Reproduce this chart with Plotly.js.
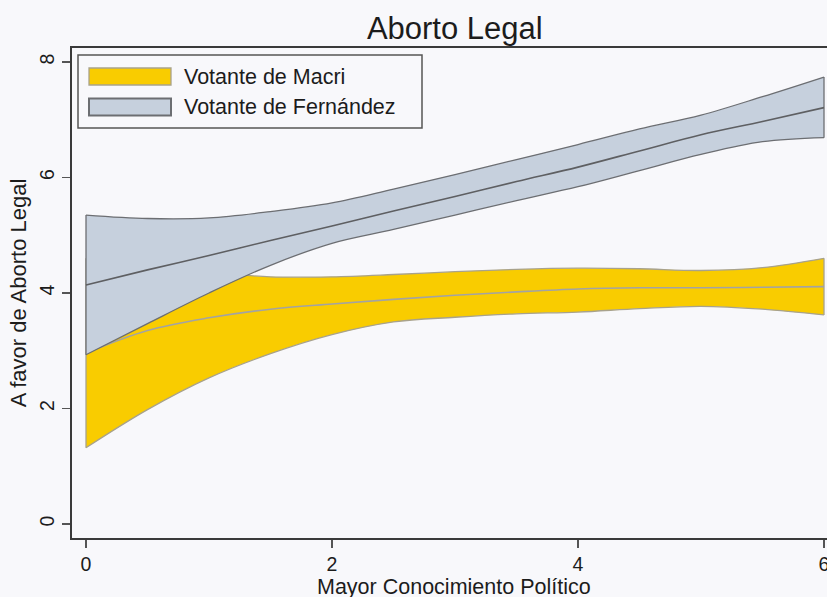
<!DOCTYPE html>
<html>
<head>
<meta charset="utf-8">
<script src="https://cdn.plot.ly/plotly-3.0.1.min.js"></script>
<style>
  html, body { margin: 0; padding: 0; background: #f8f8fb; }
  #chart { width: 827px; height: 597px; }
</style>
</head>
<body>
<div id="chart"></div>
<script>
// ── Data ──────────────────────────────────────────────────────
const KNOWLEDGE = [0, 0.5, 1, 1.5, 2, 2.5, 3, 3.5, 4, 4.5, 5, 5.5, 6];

const MACRI_MEAN = [2.96, 3.35, 3.57, 3.72, 3.81, 3.89, 3.96, 4.02, 4.07, 4.09, 4.09, 4.10, 4.11];
const MACRI_LO   = [1.32, 1.98, 2.53, 2.95, 3.28, 3.50, 3.58, 3.64, 3.67, 3.73, 3.77, 3.72, 3.62];
const MACRI_HI   = [4.60, 4.47, 4.36, 4.28, 4.28, 4.32, 4.37, 4.41, 4.43, 4.42, 4.39, 4.44, 4.60];

const FERN_MEAN = [4.14, 4.40, 4.65, 4.91, 5.16, 5.42, 5.67, 5.93, 6.18, 6.46, 6.74, 6.97, 7.21];
const FERN_LO   = [2.93, 3.47, 4.00, 4.48, 4.86, 5.10, 5.35, 5.60, 5.84, 6.12, 6.40, 6.62, 6.69];
const FERN_HI   = [5.35, 5.29, 5.30, 5.41, 5.56, 5.80, 6.05, 6.31, 6.57, 6.84, 7.08, 7.40, 7.74];

const LEGEND_LABELS = ["Votante de Macri", "Votante de Fernández"];
const X_TITLE = "Mayor Conocimiento Político";
const X_TICKS = [0, 2, 4, 6];
const Y_TICKS = [0, 2, 4, 6, 8];

// ── Styling ───────────────────────────────────────────────────
const BG = "#f8f8fb";
const FONT = "Liberation Sans, Arial, sans-serif";
const INK = "#1c1c1c";
const MACRI = { fill: "#f9cc00", edge: "#a8a28c", mean: "#a3a3a3" };
const FERN  = { fill: "#c6d0dd", edge: "#6c6e72", mean: "#5e5f62" };

// plot area in pixels, used to place the hand-drawn legend
const PLOT = { l: 72, t: 48, w: 755, h: 490 };
const px = v => (v - PLOT.l) / PLOT.w;
const py = v => (PLOT.t + PLOT.h - v) / PLOT.h;

function bandTraces(lo, mean, hi, c) {
  const n = KNOWLEDGE.length - 1;
  const line = (color, width) => ({ color, width, shape: "spline", smoothing: 1 });
  return [
    { x: KNOWLEDGE, y: lo, type: "scatter", mode: "lines", line: line(c.edge, 1.3), hoverinfo: "skip" },
    { x: KNOWLEDGE, y: hi, type: "scatter", mode: "lines", line: line(c.edge, 1.3),
      fill: "tonexty", fillcolor: c.fill, hoverinfo: "skip" },
    // closing edges of the band at both ends
    { x: [KNOWLEDGE[0], KNOWLEDGE[0], null, KNOWLEDGE[n], KNOWLEDGE[n]],
      y: [lo[0], hi[0], null, lo[n], hi[n]],
      type: "scatter", mode: "lines", line: { color: c.edge, width: 1.3 }, hoverinfo: "skip" },
    { x: KNOWLEDGE, y: mean, type: "scatter", mode: "lines", line: line(c.mean, 1.6), hoverinfo: "skip" },
  ];
}

const traces = [
  ...bandTraces(MACRI_LO, MACRI_MEAN, MACRI_HI, MACRI),
  ...bandTraces(FERN_LO, FERN_MEAN, FERN_HI, FERN),
].map(t => ({ ...t, showlegend: false }));

// ── Legend drawn by hand (Stata style swatches) ───────────────
const swatchColors = [MACRI, FERN];
const shapes = [
  { type: "rect", xref: "paper", yref: "paper",
    x0: px(78), x1: px(422), y0: py(128), y1: py(55),
    line: { color: "#555", width: 1.5 }, fillcolor: BG },
];
const annotations = [];
LEGEND_LABELS.forEach((label, i) => {
  const top = 68 + i * 30.5;
  shapes.push({
    type: "rect", xref: "paper", yref: "paper",
    x0: px(89), x1: px(171), y0: py(top + 17), y1: py(top),
    line: { color: swatchColors[i].edge, width: i ? 2 : 1.3 },
    fillcolor: swatchColors[i].fill,
  });
  annotations.push({
    text: label, xref: "paper", yref: "paper",
    x: px(182), y: py(top + 8.5), xanchor: "left", yanchor: "middle",
    showarrow: false, font: { size: 21.5, color: INK, family: FONT },
  });
});

// x title sits low, close to the bottom edge as in the reference
annotations.push({
  text: X_TITLE, xref: "paper", yref: "paper",
  x: px(454), y: py(587), xanchor: "center", yanchor: "middle",
  showarrow: false, font: { size: 21.5, color: INK, family: FONT },
});

const axisBase = {
  showgrid: false, zeroline: false,
  showline: true, linecolor: "#3a3a3a", linewidth: 2,
  ticks: "outside", ticklen: 8, tickwidth: 1.5, tickcolor: "#555",
  tickfont: { size: 19.5, color: INK, family: FONT },
  ticklabeloverflow: "allow",
};

const layout = {
  width: 827, height: 597,
  paper_bgcolor: BG, plot_bgcolor: BG,
  margin: { l: PLOT.l, r: 0, t: PLOT.t, b: 597 - PLOT.t - PLOT.h, pad: 0 },
  font: { family: FONT, color: INK },
  title: {
    text: "Aborto Legal",
    font: { size: 31, color: INK, family: FONT },
    xref: "paper", x: 0.507, xanchor: "center",
    yref: "container", y: 1 - 28 / 597, yanchor: "middle",
  },
  xaxis: {
    ...axisBase,
    range: [(72 - 86) / 123, (827 - 86) / 123],
    tickvals: X_TICKS, mirror: true,
  },
  yaxis: {
    ...axisBase,
    range: [-(538 - 524) / 57.75, (524 - 48) / 57.75],
    tickvals: Y_TICKS, tickangle: -90,
    title: { text: "A favor de Aborto Legal", font: { size: 22, color: INK, family: FONT }, standoff: 4 },
  },
  shapes,
  annotations,
  showlegend: false,
};

Plotly.newPlot("chart", traces, layout, { displayModeBar: false, staticPlot: true });
</script>
</body>
</html>
